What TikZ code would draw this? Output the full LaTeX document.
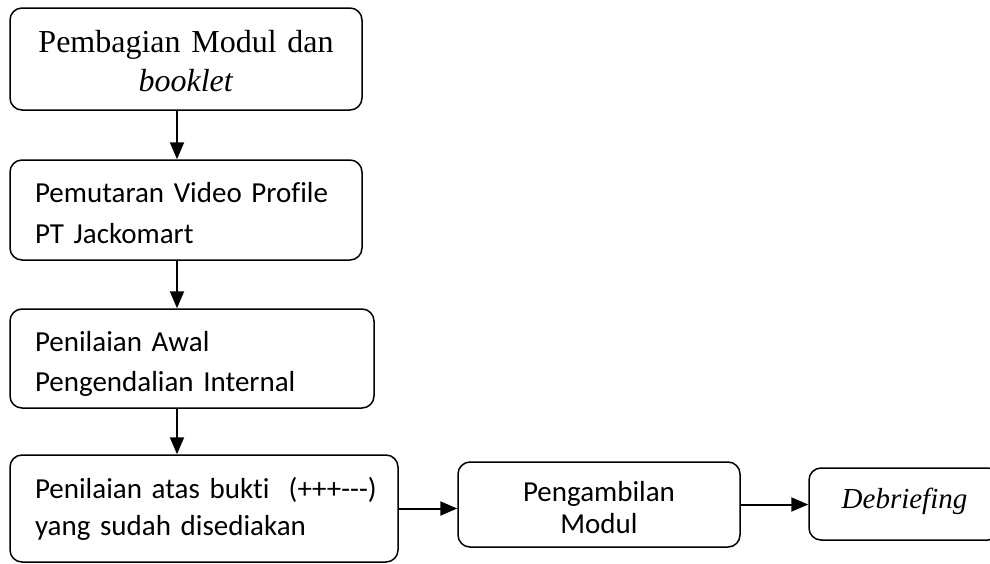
\documentclass[tikz,border=0pt]{standalone}
\usepackage{fontspec}
\setmainfont{Liberation Serif}
\newfontfamily\calibri[Ligatures=NoCommon]{Carlito}
\usetikzlibrary{arrows.meta}

\begin{document}
\begin{tikzpicture}[x=1pt, y=-1pt,
  stepbox/.style={draw=black, line width=1.5pt, rounded corners=12pt, inner sep=0pt},
  flow/.style={draw=black, line width=2pt, -{Triangle[length=17pt, width=14pt]}}]

  % Canvas
  \useasboundingbox (0, 0) rectangle (990, 563);
  \clip (0, 0) rectangle (990, 563);

  % ==================== 1. LEFT COLUMN ====================
  \node[stepbox, minimum width=352pt, minimum height=102pt, text width=302pt, align=center,
        text height=26pt, font=\fontsize{32}{38.4}\selectfont] (modul) at (186, 59)
    {Pembagian Modul dan\\ \textit{booklet}};
  \node[stepbox, minimum width=352pt, minimum height=100pt, text width=302pt, align=left,
        text height=27pt, font=\calibri\fontsize{29}{41}\selectfont] (video) at (186, 210)
    {\mbox{Pemutaran Video Profile}\\ PT Jackomart};
  \node[stepbox, minimum width=364pt, minimum height=99pt, text width=314pt, align=left,
        text height=30pt, font=\calibri\fontsize{29}{40}\selectfont] (awal) at (192, 358.5)
    {Penilaian Awal\\ \mbox{Pengendalian Internal}};
  \node[stepbox, minimum width=388pt, minimum height=107pt, text width=338pt, align=left,
        font=\calibri\fontsize{29}{37}\selectfont] (bukti) at (204, 508.5)
    {\mbox{Penilaian atas bukti\ \ (+++-{}-{}-)}\\ \mbox{yang sudah disediakan}};

  % ==================== 2. BOTTOM ROW ====================
  \node[stepbox, minimum width=282pt, minimum height=85pt, text width=232pt, align=center,
        text height=27pt, font=\calibri\fontsize{29}{32}\selectfont] (ambil) at (599, 504.5)
    {Pengambilan\\ Modul};
  \node[stepbox, minimum width=191pt, minimum height=72pt, text depth=12pt,
        font=\fontsize{29}{34}\selectfont\itshape] (debrief) at (904.5, 504)
    {Debriefing};

  % ==================== 3. ARROWS ====================
  \coordinate (spine) at (177, 0);
  \foreach \a/\b in {modul/video, video/awal, awal/bukti} {
    \draw[flow] (\a.south -| spine) -- (\b.north -| spine);
  }
  \draw[flow] (bukti.east) -- (ambil.west |- bukti.east);
  \draw[flow] (ambil.east) -- (debrief.west |- ambil.east);

\end{tikzpicture}
\end{document}
